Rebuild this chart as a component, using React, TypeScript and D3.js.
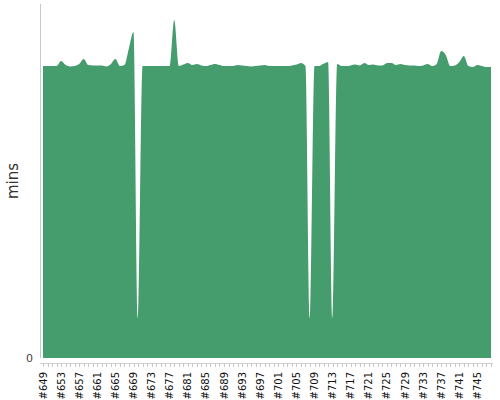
import React from "react";
import * as d3 from "d3";

const firstBuild = 649;
const buildCount = 100;
const builds: string[] = Array.from({ length: buildCount }, (_, i) => `#${firstBuild + i}`);

// duration in minutes per build (#649 .. #748)
const durations: number[] = [
  19.85, 19.85, 19.85, 19.85, 20.19, 19.92, 19.82, 19.85, 19.99, 20.33,
  19.92, 19.89, 19.89, 19.89, 19.82, 19.99, 20.33, 19.85, 19.92, 21.08,
  22.16, 2.7, 19.85, 19.85, 19.85, 19.85, 19.85, 19.85, 19.85, 22.98,
  19.85, 19.95, 20.06, 19.92, 19.99, 19.89, 19.85, 19.92, 19.99, 19.92,
  19.85, 19.85, 19.85, 19.92, 19.89, 19.85, 19.82, 19.85, 19.89, 19.92,
  19.85, 19.85, 19.85, 19.85, 19.85, 19.89, 19.95, 20.06, 19.85, 2.7,
  19.85, 19.85, 20.0, 20.12, 2.7, 19.99, 19.85, 19.85, 19.89, 19.95,
  19.89, 20.06, 19.92, 19.95, 19.89, 19.89, 20.06, 20.06, 19.92, 19.99,
  19.92, 19.89, 19.89, 19.85, 19.89, 19.99, 19.85, 19.99, 20.87, 20.6,
  19.85, 19.89, 20.12, 20.53, 19.85, 19.78, 19.92, 19.85, 19.78, 19.78,
];

const yTicks: number[] = [0];
const yLabel = "mins";
const FONT = "'DejaVu Sans', Verdana, sans-serif";

export default function App() {
  const W = 500;
  const H = 400;
  const x = d3.scaleLinear().domain([0, buildCount - 1]).range([43, 491]);
  const y = d3.scaleLinear().domain([0, 24]).range([358, 5]);
  const area = d3
    .area<number>()
    .x((_, i) => x(i))
    .y0(y(0))
    .y1((d) => y(d))
    .curve(d3.curveMonotoneX);

  const labelEvery = 4;
  return (
    <svg
      width={W}
      height={H}
      style={{ position: "absolute", left: 0, top: 0 }}
      fontFamily={FONT}
    >
      <path d={area(durations) || ""} fill="#459c6c" />
      <line x1={40.5} x2={40.5} y1={4} y2={358} stroke="#c8c8c8" strokeWidth={1} />
      {yTicks.map((t) => (
        <text key={t} x={33} y={y(t)} dy="0.35em" textAnchor="end" fontSize={11} fill="#444" fontFamily={FONT}>
          {t}
        </text>
      ))}
      <text
        transform={`translate(18,${181}) rotate(-90)`}
        textAnchor="middle"
        fontSize={15}
        fill="#333"
        fontFamily={FONT}
      >
        {yLabel}
      </text>
      <line x1={40} x2={493} y1={363.5} y2={363.5} stroke="#d0d0d0" strokeWidth={1} />
      {builds.map((b, i) => (
        <line
          key={"t" + b}
          x1={Math.round(x(i)) + 0.5}
          x2={Math.round(x(i)) + 0.5}
          y1={363.5}
          y2={367}
          stroke="#c8c8c8"
          strokeWidth={1}
        />
      ))}
      {builds.map((b, i) =>
        i % labelEvery === 0 ? (
          <text
            key={"l" + b}
            transform={`translate(${x(i) + 3.5},372) rotate(-90)`}
            textAnchor="end"
            fontSize={10}
            fill="#111"
            fontFamily={FONT}
          >
            {b}
          </text>
        ) : null
      )}
    </svg>
  );
}
